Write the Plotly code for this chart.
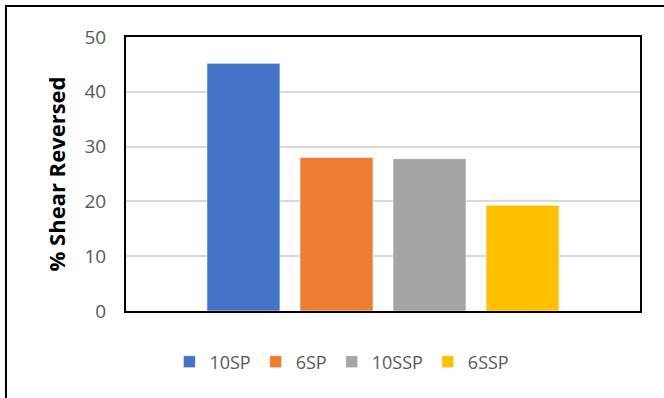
import plotly.graph_objects as go

series_names = ["10SP", "6SP", "10SSP", "6SSP"]
series_values = [45.2, 28.0, 27.8, 19.3]
series_colors = ["#4472C4", "#ED7D31", "#A5A5A5", "#FFC000"]
y_ticks = [0, 10, 20, 30, 40, 50]

fig = go.Figure()
for name, val, col in zip(series_names, series_values, series_colors):
    fig.add_trace(go.Bar(
        x=[""], y=[val], name=name,
        marker=dict(color=col, line=dict(color="rgba(255,255,255,0.6)", width=1)),
    ))

font_family = "'Open Sans', sans-serif"

fig.update_layout(
    width=664, height=398,
    margin=dict(l=126, r=24, t=37, b=87),
    paper_bgcolor="white", plot_bgcolor="white",
    barmode="group", bargap=0.276, bargroupgap=0.215,
    font=dict(family=font_family, color="#595959", size=18),
    showlegend=True,
    legend=dict(
        orientation="h", x=0.42, xanchor="center", y=-0.186, yanchor="middle",
        font=dict(size=18, color="#595959"), itemwidth=30,
        traceorder="normal",
    ),
    xaxis=dict(
        showticklabels=False, showline=True, mirror=True,
        linecolor="black", linewidth=2, ticks="", showgrid=False,
    ),
    yaxis=dict(
        range=[0, 50], tickvals=y_ticks, showline=True, mirror=True,
        linecolor="black", linewidth=2, gridcolor="#D9D9D9", gridwidth=1.5,
        tickfont=dict(size=19, color="#595959"), ticks="", ticklen=0,
        ticklabelstandoff=14,
        zeroline=False,
        title=dict(text="<b>% Shear Reversed</b>", font=dict(size=22, color="black"), standoff=13),
    ),
    shapes=[dict(
        type="rect", xref="paper", yref="paper",
        x0=-0.2335, x1=1.2, y0=-0.5, y1=1.113,
        line=dict(color="black", width=2), fillcolor="rgba(0,0,0,0)", layer="above",
    )],
)

fig.write_html("out.html")
